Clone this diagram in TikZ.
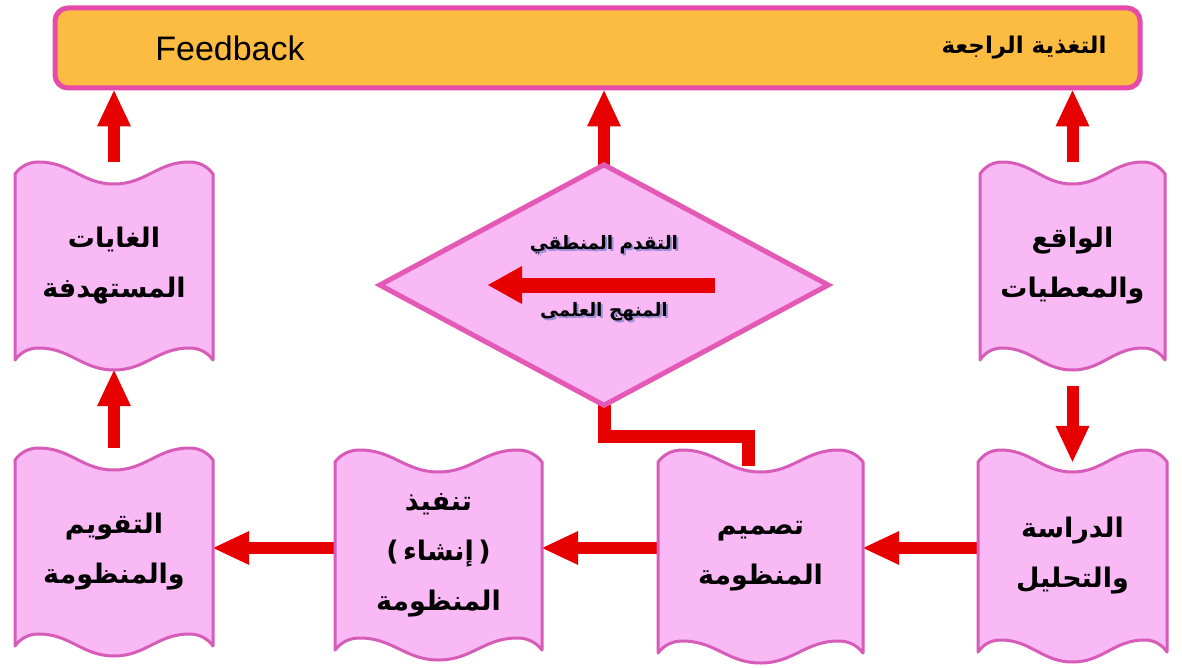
\documentclass[tikz,border=0pt]{standalone}
\usepackage{fontspec}
\setmainfont{Liberation Sans}
\TeXXeTstate=1
\newfontfamily\arabicfont[Script=Arabic]{DejaVu Sans}
\usetikzlibrary{arrows.meta,calc}
\definecolor{barfill}{HTML}{FCBB41}
\definecolor{barline}{HTML}{E64BA9}
\definecolor{boxfill}{HTML}{F8B9F4}
\definecolor{boxline}{HTML}{D75CB9}
\definecolor{dialine}{HTML}{E459B6}
\definecolor{arrred}{HTML}{E60000}
\definecolor{shadowc}{HTML}{9C8FD8}
\pgfdeclarelayer{bg}
\pgfsetlayers{bg,main}
\tikzset{
  wbox/.style={fill=boxfill, draw=boxline, line width=3pt, line join=round},
  boxtext/.style={inner sep=0pt, align=center, font=\arabicfont\bfseries\fontsize{27}{50}\selectfont},
  dtext/.style={inner sep=0pt, font=\arabicfont\bfseries\fontsize{18.5}{22}\selectfont},
  bigarrow/.style={draw=arrred, line width=12pt, -{Triangle[width=34pt,length=36pt,line width=0pt]}},
  redline/.style={draw=arrred, line width=13pt, line join=miter},
}
\newcommand\shadowtext[1]{\makebox[0pt][l]{\hspace{2pt}\raisebox{-2pt}{\textcolor{shadowc}{\beginR #1\endR}}}\beginR #1\endR}
\newcommand\wavybox[6]{%
  \pgfmathsetmacro\wL{#2}\pgfmathsetmacro\wT{#3}%
  \pgfmathsetmacro\wR{#4}\pgfmathsetmacro\wB{#5}%
  \pgfmathsetmacro\wW{\wR-\wL}\pgfmathsetmacro\wH{\wB-\wT}%
  \path[wbox] (\wL,{\wT+12})
    .. controls ({\wL+0.03*\wW},{\wT+4}) and ({\wL+0.07*\wW},\wT) .. ({\wL+0.12*\wW},\wT)
    .. controls ({\wL+0.28*\wW},\wT) and ({\wL+0.34*\wW},{\wT+22}) .. ({\wL+0.5*\wW},{\wT+22})
    .. controls ({\wL+0.66*\wW},{\wT+22}) and ({\wL+0.72*\wW},\wT) .. ({\wL+0.88*\wW},\wT)
    .. controls ({\wL+0.93*\wW},\wT) and ({\wL+0.97*\wW},{\wT+4}) .. (\wR,{\wT+12})
    -- (\wR,{\wB-10})
    .. controls ({\wL+0.97*\wW},{\wB-18}) and ({\wL+0.93*\wW},{\wB-22}) .. ({\wL+0.88*\wW},{\wB-22})
    .. controls ({\wL+0.72*\wW},{\wB-22}) and ({\wL+0.66*\wW},\wB) .. ({\wL+0.5*\wW},\wB)
    .. controls ({\wL+0.34*\wW},\wB) and ({\wL+0.28*\wW},{\wB-22}) .. ({\wL+0.12*\wW},{\wB-22})
    .. controls ({\wL+0.07*\wW},{\wB-22}) and ({\wL+0.03*\wW},{\wB-18}) .. (\wL,{\wB-10})
    -- cycle;
  \node[boxtext, minimum width=\wW pt, minimum height=\wH pt] (#1) at ({(\wL+\wR)/2},{(\wT+\wB)/2}) {#6};
}
\begin{document}
\begin{tikzpicture}[x=1pt,y=-1pt]
\useasboundingbox (0,0) rectangle (1182,668);

% top bar
\node[draw=barline, fill=barfill, line width=5pt, rounded corners=13pt,
      minimum width=1085pt, minimum height=80pt, inner sep=0pt] (bar) at (597.5,48) {};
\node[font=\fontsize{34}{40}\selectfont, inner sep=0pt] (fb) at (230,48) {Feedback};
\node[font=\arabicfont\bfseries\fontsize{23}{28}\selectfont, inner sep=0pt] (fbar) at (1024,48)
  {\beginR التغذية الراجعة\endR};

% wavy boxes
\wavybox{tl}{15}{162}{213}{370}{\beginR الغايات\endR\\\beginR المستهدفة\endR}
\wavybox{tr}{980}{162}{1165}{370}{\beginR الواقع\endR\\\beginR والمعطيات\endR}
\wavybox{bl}{15}{448}{213}{656}{\beginR التقويم\endR\\\beginR والمنظومة\endR}
\wavybox{s2}{335}{450}{542}{660}{\beginR تنفيذ\endR\\)\,\beginR إنشاء\endR\,(\\\beginR المنظومة\endR}
\wavybox{s3}{658}{450}{863}{663}{\beginR تصميم\endR\\\beginR المنظومة\endR}
\wavybox{br}{978}{450}{1167}{662}{\beginR الدراسة\endR\\\beginR والتحليل\endR}

% diamond
\node[minimum width=448pt, minimum height=240pt, inner sep=0pt] (dia) at (604,285) {};
\path[fill=boxfill, draw=dialine, line width=5pt, line join=miter]
  (dia.north) -- (dia.east) -- (dia.south) -- (dia.west) -- cycle;
\node[dtext] (d1) at (604,246) {\shadowtext{التقدم المنطقي}};
\node[dtext] (d2) at (604,313) {\shadowtext{المنهج العلمى}};
\coordinate (ia1) at ($(dia.center)+(111,0)$);
\coordinate (ia2) at ($(dia.center)+(-116,0)$);
\draw[draw=arrred, line width=15pt, -{Triangle[width=38pt,length=34pt,line width=0pt]}] (ia1) -- (ia2);

% connectors (behind shapes)
\coordinate (row) at (0,548);
\begin{pgfonlayer}{bg}
\fill[white] (0,0) rectangle (1182,668);
\draw[bigarrow] (tl.north) -- (tl.north |- bar.south);
\draw[bigarrow] (dia.north) -- (dia.north |- bar.south);
\draw[bigarrow] (tr.north) -- (tr.north |- bar.south);
\draw[bigarrow] (bl.north) -- (tl.south);
\draw[bigarrow, shorten <=16pt, shorten >=-12pt] (tr.south) -- (br.north);
\draw[bigarrow] (br.west |- row) -- (s3.east |- row);
\draw[bigarrow] (s3.west |- row) -- (s2.east |- row);
\draw[bigarrow] (s2.west |- row) -- (bl.east |- row);
\draw[redline] (dia.south) -- ++(0,31) -| ([xshift=-12pt,yshift=-16pt]s3.north);
\end{pgfonlayer}
\end{tikzpicture}
\end{document}
